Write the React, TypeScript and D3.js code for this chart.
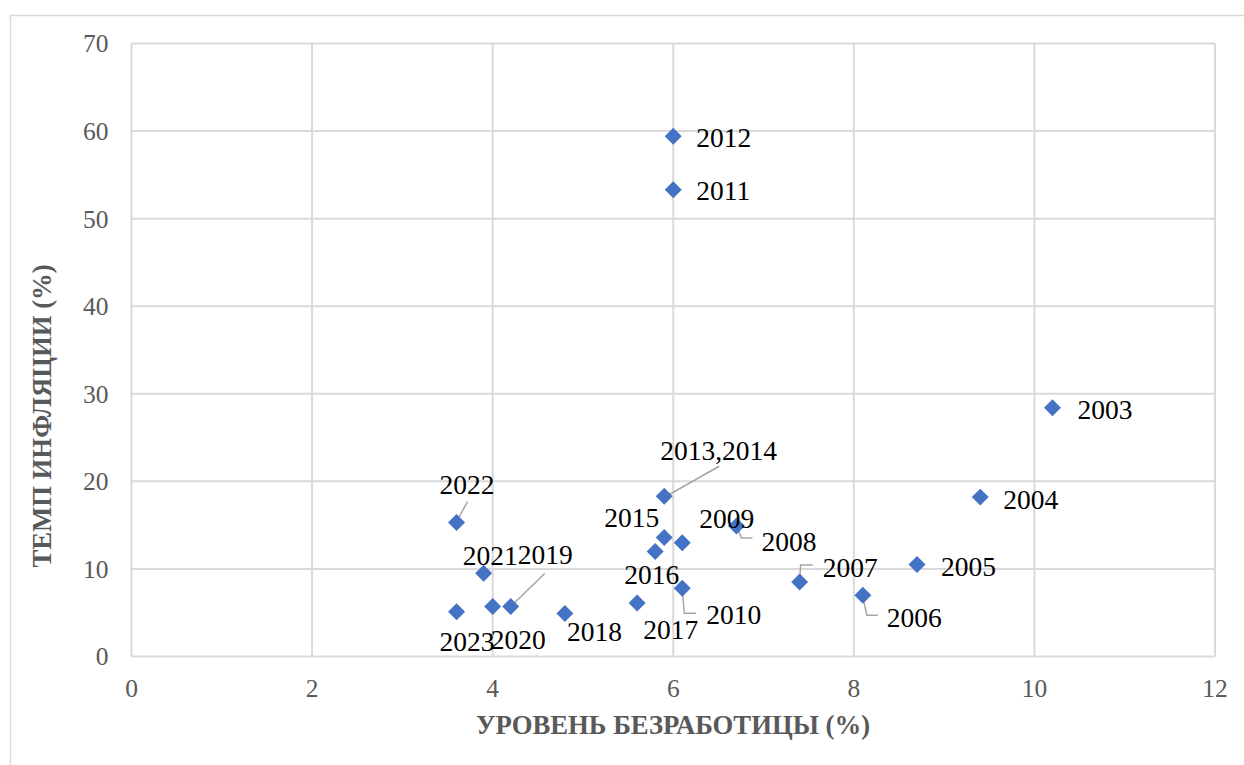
import React from "react";
import * as d3 from "d3";

const years = ["2003","2004","2005","2006","2007","2008","2009","2010","2011","2012","2013,2014","2015","2016","2017","2018","2019","2020","2021","2022","2023"];
const unemployment = [10.2, 9.4, 8.7, 8.1, 7.4, 6.7, 6.1, 6.1, 6.0, 6.0, 5.9, 5.9, 5.8, 5.6, 4.8, 4.2, 4.0, 3.9, 3.6, 3.6];
const inflation = [28.4, 18.2, 10.5, 7.0, 8.5, 14.9, 13.0, 7.8, 53.3, 59.4, 18.3, 13.6, 12.0, 6.1, 4.9, 5.7, 5.7, 9.5, 15.3, 5.1];
const xTicks = [0, 2, 4, 6, 8, 10, 12];
const yTicks = [0, 10, 20, 30, 40, 50, 60, 70];
const xTitle = "УРОВЕНЬ БЕЗРАБОТИЦЫ (%)";
const yTitle = "ТЕМП ИНФЛЯЦИИ (%)";

// label placement (pixel offsets relative to the marker), with optional leader lines
const labelLayout: Record<string, { dx: number; dy: number; leader?: number[][] }> = {
  "2003": { dx: 25, dy: 2 },
  "2004": { dx: 23, dy: 2 },
  "2005": { dx: 24, dy: 2 },
  "2006": { dx: 24, dy: 22, leader: [[0, 2], [4, 20], [15, 20]] },
  "2007": { dx: 23, dy: -15, leader: [[0, -2], [1, -17], [13, -17]] },
  "2008": { dx: 25, dy: 15, leader: [[0, 0], [5, 12], [16, 12]] },
  "2009": { dx: 17, dy: -24 },
  "2010": { dx: 24, dy: 26, leader: [[0, 0], [2, 25], [14, 25]] },
  "2011": { dx: 23, dy: 1 },
  "2012": { dx: 23, dy: 1 },
  "2013,2014": { dx: -4, dy: -46, leader: [[2, 0], [55, -30]] },
  "2015": { dx: -60, dy: -20 },
  "2016": { dx: -31, dy: 23 },
  "2017": { dx: 6, dy: 26 },
  "2018": { dx: 2, dy: 18 },
  "2019": { dx: 7, dy: -52, leader: [[0, 0], [34, -33]] },
  "2020": { dx: -2, dy: 33 },
  "2021": { dx: -21, dy: -18 },
  "2022": { dx: -17, dy: -38, leader: [[0, -1], [11, -21]] },
  "2023": { dx: -17, dy: 30 },
};

const W = 1244, H = 765;
const plot = { left: 131.5, right: 1215, top: 43.5, bottom: 656.5 };
const FONT = "Liberation Serif, Times New Roman, serif";

export default function App() {
  const x = d3.scaleLinear().domain([0, 12]).range([plot.left, plot.right]);
  const y = d3.scaleLinear().domain([0, 70]).range([plot.bottom, plot.top]);
  const diamond = d3.symbol().type(d3.symbolSquare).size(144)()!;
  const line = d3.line();
  return (
    <svg width={W} height={H} style={{ position: "absolute", left: 0, top: 0, background: "#fff" }}>
      <rect x={0} y={0} width={W} height={H} fill="#fff" />
      <path d={`M10.5,${H} V15.5 H${W}`} fill="none" stroke="#d9d9d9" strokeWidth={1.5} />
      {xTicks.map((t) => (
        <line key={"gx" + t} x1={x(t)} x2={x(t)} y1={plot.top} y2={plot.bottom} stroke="#d9d9d9" strokeWidth={2} />
      ))}
      {yTicks.map((t) => (
        <line key={"gy" + t} x1={plot.left} x2={plot.right} y1={y(t)} y2={y(t)} stroke="#d9d9d9" strokeWidth={2} />
      ))}
      {yTicks.map((t) => (
        <text key={"ty" + t} x={108.5} y={y(t)} dy="0.35em" textAnchor="end" fontFamily={FONT} fontSize={25.5} fill="#595959">{t}</text>
      ))}
      {xTicks.map((t) => (
        <text key={"tx" + t} x={x(t)} y={688} dy="0.35em" textAnchor="middle" fontFamily={FONT} fontSize={25.5} fill="#595959">{t}</text>
      ))}
      <text x={673} y={725} dy="0.35em" textAnchor="middle" fontFamily={FONT} fontSize={26.7} fontWeight="bold" fill="#595959">{xTitle}</text>
      <text transform={`translate(42,416) rotate(-90)`} dy="0.35em" textAnchor="middle" fontFamily={FONT} fontSize={26.7} fontWeight="bold" fill="#595959">{yTitle}</text>
      {years.map((yr, i) => {
        const px = x(unemployment[i]);
        const py = y(inflation[i]);
        const lay = labelLayout[yr];
        return (
          <g key={"l" + yr}>
            {lay.leader && (
              <path d={line(lay.leader.map(([a, b]) => [px + a, py + b] as [number, number]))!} fill="none" stroke="#a6a6a6" strokeWidth={1.5} />
            )}
          </g>
        );
      })}
      {years.map((yr, i) => (
        <path key={"m" + yr} d={diamond} transform={`translate(${x(unemployment[i])},${y(inflation[i])}) rotate(45)`} fill="#4472C4" />
      ))}
      {years.map((yr, i) => {
        const px = x(unemployment[i]);
        const py = y(inflation[i]);
        const lay = labelLayout[yr];
        return (
          <text key={"t" + yr} x={px + lay.dx} y={py + lay.dy} dy="0.35em" fontFamily={FONT} fontSize={27.5} fill="#000">{yr}</text>
        );
      })}
    </svg>
  );
}
